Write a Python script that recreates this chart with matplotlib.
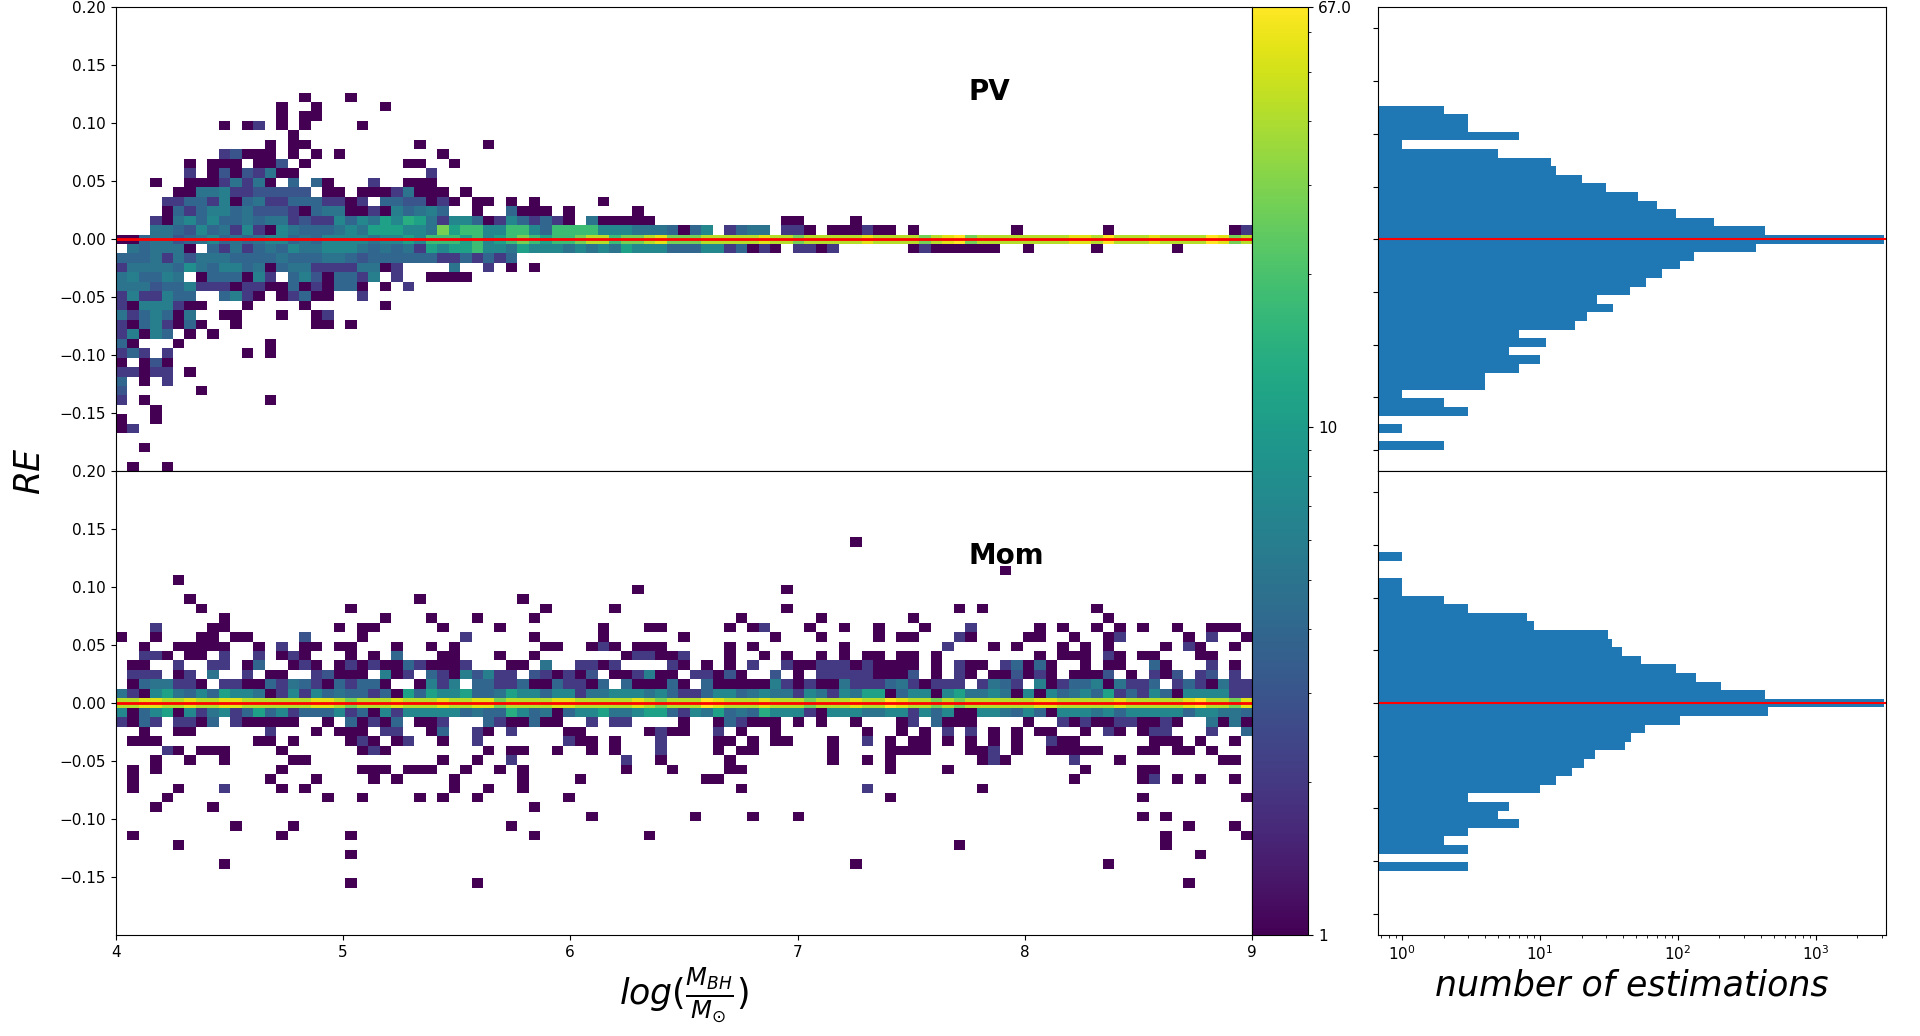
import numpy as np
import matplotlib
matplotlib.use('Agg')
import matplotlib.pyplot as plt
from matplotlib.colors import LogNorm

# bin edges of the 2d histograms (log mass vs relative error)
x_edges = np.linspace(4, 9, 100)
y_edges = np.linspace(-0.2, 0.2, 50)

# colour code -> counts per cell
CODE = {'.': 0, '1': 1, '2': 2, '3': 3, '4': 4, '5': 5, '6': 6, '7': 7, '8': 8,
        '9': 9, 'a': 11, 'b': 14, 'g': 18, 'l': 28, 'y': 42, 'Y': 55, 'M': 67}

# rows keyed by y bin (0 = bin centred on RE=0), "start_col:codes" segments
pv_rows = {
    15: "16:1 20:1",
    14: "14:1 17:1 23:1",
    13: "14:1 16:11",
    12: "9:1.12.1.1 21:1",
    11: "15:1",
    10: "13:1.11 26:1 32:1",
    9: "9:23111.1.1.1 28:1",
    8: "6:1.111.113.1 25:11..1",
    7: "6:2.13132511 27:2",
    6: "3:1..11125251.4.41 22:2 25:111",
    5: "5:115562233333.11.11125111.1",
    4: "4:224426145224442212.4433121.11.1.1 42:1",
    3: "4:1424664533321455112164564..1..4111.1 45:1",
    2: "3:21574744545523227475a7ba5277412742421.511111 58:11 64:1",
    1: "3:55437452" "72175444" "575aaa77" "5lagg77g" "g74gggg7" "77555414"
       "7.2455.2" "21.11121" "1.1 78:1 86:1 97:12",
    0: "0:11455345" "74545774" "54777757" "7a7gggag" "7aglgagg" "lyygllyY"
       "lllyyyyy" "Yyylyyyy" "yYyyyyly" "YMlyyyyy" "yyyYYyMy" "yyYyyyyM" "Yly",
    -1: "0:.545551." "42524547" "55777545" "452a7aag" "775a7775" "7575a777"
        "44477241" "21.2212." ".....121" "11111..1" ".....1.." "....1...",
    -2: "0:44452535" "55444454" "44554344" "44442242" "424",
    -3: "0:25555485" "46645145" "52222551" "2....5.." "2.1.1",
    -4: "0:564465.1" "444162.4" "6314426." "2..1111",
    -5: "0:55534462" "22122114" "121441.1" ".2",
    -6: "0:2622644." ".4621.12" "411..2",
    -7: "0:21666211 11:1 16:1 23:1",
    -8: "0:5246415 9:11 14:1 17:12",
    -9: "0:21462141 10:1 17:11 20:1",
    -10: "0:26164.1.1",
    -11: "0:41 5:1 13:1",
    -12: "0:242.2 11:1 13:1",
    -13: "0:1.131",
    -14: "0:22122.1",
    -15: "0:4.1.2",
    -16: "0:3 7:1",
    -17: "0:2.1 13:1",
    -18: "3:1",
    -19: "0:1..1",
    -20: "0:12",
    -22: "2:1",
    -24: "1:1..1",
}

mom_rows = {
    17: "64:1",
    14: "77:1",
    13: "5:1",
    12: "45:1 58:1",
    11: "6:1 26:1 35:1",
    10: "7:1 20:1 37:1 43:1 58:1 73:1 75:1 85:1",
    9: "9:1 23:1 27:1 31:1 36:1 54:1 61:1 69:1 86:1",
    8: "3:2 8:11 19:1 21:11 28:1 33:1 42:1 46:11 53:1.12 60:1 63:1 66:1 70:1 "
       "74:2 80:1 82:1 85:1 87:1 89:1 92:1 95:111",
    7: "0:1 3:1 7:11.11 16:3 21:1 30:2 36:1 42:1 49:1 57:1 61:1 66:1.11 73:21 "
       "79:11 83:1 86:12 93:1.2 98:1",
    6: "2:1 5:11111 12:1.2.11.11 24:1..1.1 37:11..121.111 53:1.1 63:1 72:2 "
       "76:1.1 82:1.1.1 91:1.21 97:1",
    5: "2:221.11.2..2.121 20:1.1.4...11...1..1 44:122112 "
       "53:1..1.1..1.1.11.11.1 80:1.111.21.11 94:11",
    4: "1:11..2..22.14..121.121211421112 34:11.5..2212 "
       "48:21.1.1.2..211222121111.1.211.24141 84:1.11..41...2.1",
    3: "1:222.12.5" "..2.11.." "23111.61" "2.421636" "22.32121" "3.112611"
       ".22131.." "3.1.2222" "21113.1." "21.11312" "1.1113.1" ".213.23." "2",
    2: "1:1455221." "22114254" "2142441." ".1626.44" "22411422" "14.41114"
       "1.411111" "62121152" "22452122" "2.2542.6" "12446152" "24.24215" "22",
    1: "0:5217a547" "4a775127" "27454424" "1a4a77a4" "45a77477" "25577757"
       "42247745" "75527527" "5aa14771" "7a557517" "174574a2" "42741777" "722",
    0: "0:yyYYyyYy" "yYYyyyyy" "yYYylyyy" "YyyyYyyY" "YlyyyyYY" "yyyyyYyl"
       "yyyMYyyy" "Yyyylyyy" "YyyMYyyl" "ylyyyyyy" "YYyyyyyY" "yyyyyYMy" "ylY",
    -1: "0:7147a172" "5724a472" "44472417" "27777745" "44b74514" "77a557aa"
        "4275a454" "b7772177" "75577274" "71177547" "41777574" "77777477" "554",
    -2: "0:2142.221" "4.211111" "..1.4121" "4.112..." "4211411." ".2.22..."
        ".1..1421" "11.1.1.." "1...12.4" "111....1" "..212112" "21121..5" "151",
    -3: "2:1..11 13:2...1.111.22..14..21.2 39:11 46:1211..2.1..1 "
        "65:1..1.1.2.2.1.1.11..1.21.122...2..4",
    -4: "1:111 12:11.1 20:121.12..1..2 39:211.1...2 "
        "52:11.1.11...1..2.1.11.1.1.1.1..211 90:111.1..1",
    -5: "4:21.111 14:1 21:121 32:1.11..1..1.1...2 52:1.11 62:1 "
        "67:1111...112.1..11111...11.11.1",
    -6: "3:1..1..1 15:11 28:1..1..2 44:2..1.....1 62:1..1.1 75:121.....2...1 96:11",
    -7: "1:1.1 14:1 21:111.111..1..1.1 44:1...1....11 67:1....1 84:1....11",
    -8: "1:1 13:1...1....1.1....1 35:1....1 51:11 83:1.....12.1.1..1",
    -9: "1:1...1...2....1.1 29:1..1..1 54:1 65:2 75:1",
    -10: "4:1 18:1..1....1.1..1 39:1 67:1 89:1 98:1",
    -11: "3:1 8:1 36:1",
    -12: "41:1 50:1 55:1 59:1 89:1 91:1",
    -13: "10:1 15:1 34:1 93:1 97:1",
    -14: "1:1 14:1 20:1 36:1 46:1 91:1 98:1",
    -15: "5:1 73:1 91:1",
    -16: "20:1 94:1",
    -17: "9:1 64:1 86:1",
    -19: "20:1 31:1 93:1",
}

# number of estimations per RE bin (right hand histograms)
pv_hist = {15: 2, 14: 3, 13: 3, 12: 7, 11: 1, 10: 5, 9: 12, 8: 13, 7: 20, 6: 30,
           5: 51, 4: 70, 3: 97, 2: 182, 1: 430, 0: 3130, -1: 370, -2: 130,
           -3: 104, -4: 77, -5: 59, -6: 45, -7: 26, -8: 34, -9: 22, -10: 18,
           -11: 7, -12: 11, -13: 6, -14: 10, -15: 7, -16: 4, -17: 4, -18: 1,
           -19: 2, -20: 3, -22: 1, -24: 2}
mom_hist = {17: 1, 14: 1, 13: 1, 12: 2, 11: 3, 10: 8, 9: 9, 8: 31, 7: 33, 6: 39,
            5: 54, 4: 97, 3: 135, 2: 205, 1: 426, 0: 3130, -1: 453, -2: 104,
            -3: 58, -4: 46, -5: 41, -6: 25, -7: 21, -8: 17, -9: 13, -10: 10,
            -11: 3, -12: 6, -13: 5, -14: 7, -15: 3, -16: 2, -17: 3, -19: 3}

ny = len(y_edges) - 1
nx = len(x_edges) - 1
mid = ny // 2


def build_grid(rows):
    grid = np.zeros((ny, nx))
    for k, spec in rows.items():
        for seg in spec.split():
            start, codes = seg.split(':')
            for j, ch in enumerate(codes):
                grid[mid + k, int(start) + j] = CODE[ch]
    return np.ma.masked_equal(grid, 0)


def hist_counts(d):
    return np.array([d.get(k, 0) for k in range(-mid, mid + 1)], dtype=float)


plt.rcParams['xtick.labelsize'] = 11
plt.rcParams['ytick.labelsize'] = 11

fig = plt.figure(figsize=(19.2, 10.36), dpi=100)
ax_pv = fig.add_axes([0.0602, 0.5452, 0.5920, 0.4477])
ax_mom = fig.add_axes([0.0602, 0.0975, 0.5920, 0.4477], sharex=ax_pv)
cax = fig.add_axes([0.6522, 0.0975, 0.0293, 0.8954])
h_pv = fig.add_axes([0.7177, 0.5452, 0.2646, 0.4477])
h_mom = fig.add_axes([0.7177, 0.0975, 0.2646, 0.4477], sharex=h_pv)

norm = LogNorm(vmin=1, vmax=67)
yt = [-0.15, -0.1, -0.05, 0.0, 0.05, 0.1, 0.15, 0.2]
for ax, rows, name in [(ax_pv, pv_rows, 'PV'), (ax_mom, mom_rows, 'Mom')]:
    mesh = ax.pcolormesh(x_edges, y_edges, build_grid(rows), cmap='viridis', norm=norm)
    ax.axhline(0, color='red', lw=2)
    ax.set_xlim(4, 9)
    ax.set_ylim(-0.2, 0.2)
    ax.set_yticks(yt)
    ax.text(7.75, 0.12, name, fontsize=20, fontweight='bold')
ax_pv.tick_params(labelbottom=False)
ax_mom.set_xlabel(r'$log(\frac{M_{BH}}{M_{\odot}})$', fontsize=25)
fig.text(0.0151, 0.5452, 'RE', rotation=90, fontsize=25, style='italic',
         ha='center', va='center')

cb = fig.colorbar(mesh, cax=cax, ticks=[1, 10, 67])
cb.ax.set_yticklabels(['1', '10', '67.0'])

centers = (y_edges[:-1] + y_edges[1:]) / 2
for ax, d in [(h_pv, pv_hist), (h_mom, mom_hist)]:
    ax.set_xscale('log')
    ax.hist(centers, bins=y_edges, weights=hist_counts(d), orientation='horizontal',
            color='C0')
    ax.axhline(0, color='red', lw=1.5)
    ax.set_ylim(-0.22, 0.22)
    ax.set_yticks(np.linspace(-0.2, 0.2, 9))
    ax.tick_params(labelleft=False)
h_pv.set_xlim(0.67, 3220)
h_pv.tick_params(labelbottom=False)
h_mom.set_xlabel('number of estimations', fontsize=25, style='italic')

fig.savefig('out.png', dpi=100)
